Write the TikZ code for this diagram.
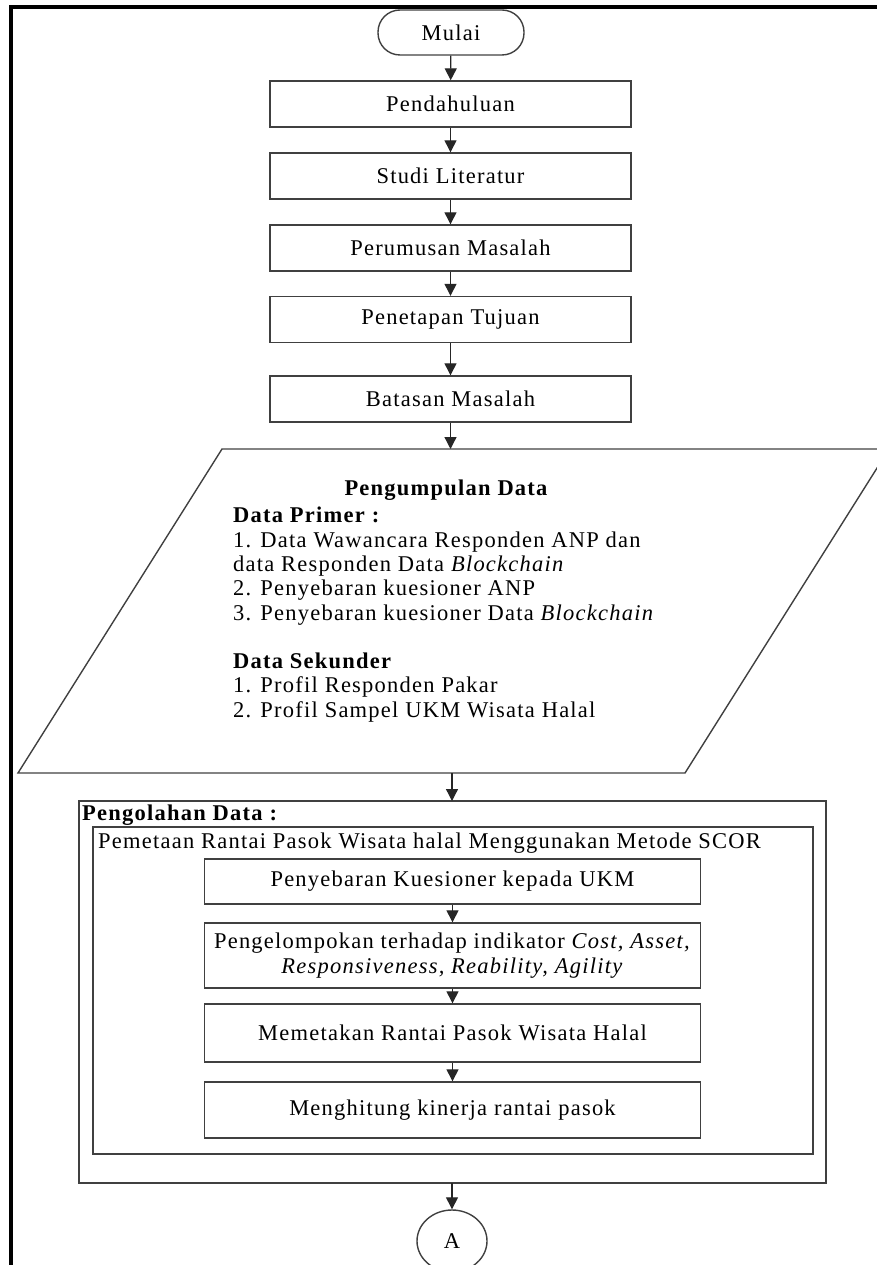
\documentclass[tikz,border=0pt]{standalone}
\usepackage{fontspec}
\setmainfont{Liberation Serif}[LetterSpace=5.5]
\usetikzlibrary{arrows.meta,shapes.geometric}
\begin{document}
\begin{tikzpicture}[x=1pt,y=-1pt,
  edge/.style={draw=black!75, line width=1.4pt},
  lbl/.style={font=\fontsize{22.5}{24.3}\selectfont},
  stepbox/.style={edge, lbl, rectangle, inner sep=0pt, align=center},
  topbox/.style={stepbox, minimum width=361pt, minimum height=46pt},
  subbox/.style={stepbox, minimum width=496pt},
  arr/.style={draw=black!85, line width=1.3pt, -{Triangle[width=12pt,length=12pt]}},
  txt/.style={lbl, inner sep=0pt},
]
\useasboundingbox (0,0) rectangle (877,1265);
\begin{scope}
\clip (0,0) rectangle (877,1265);

% page frame
\draw[line width=4pt, black, line join=miter] (877,7) -- (11.3,7) -- (11.3,1265);

% start terminal and preliminary steps
\node[edge, lbl, rounded corners=22pt, minimum width=146pt, minimum height=45pt,
  inner sep=0pt] (start) at (451,32.5) {Mulai};
\node[topbox] (s1) at (450.5,104) {Pendahuluan};
\node[topbox] (s2) at (450.5,176) {Studi Literatur};
\node[topbox] (s3) at (450.5,248) {Perumusan Masalah};
\node[topbox] (s4) at (450.5,319.5) {Penetapan Tujuan};
\node[topbox] (s5) at (450.5,399) {Batasan Masalah};

% data collection (input/output parallelogram)
\draw[edge] (222,449) -- (889,449) -- (685,773) -- (18,773) -- cycle;
\coordinate (ioTop) at (450.5,449);
\coordinate (ioBot) at (452,773);
\node[txt, font=\fontsize{22.5}{24.3}\selectfont\bfseries] (ioTitle) at (446,490) {Pengumpulan Data};
\node[txt, anchor=north west, align=left] (ioBody) at (233,507) {%
  \textbf{Data Primer :}\\
  1. Data Wawancara Responden ANP dan\\
  data Responden Data \textit{Blockchain}\\
  2. Penyebaran kuesioner ANP\\
  3. Penyebaran kuesioner Data \textit{Blockchain}\\[24.3pt]
  \textbf{Data Sekunder}\\
  1. Profil Responden Pakar\\
  2. Profil Sampel UKM Wisata Halal};

% data processing group
\draw[edge] (79,801) rectangle (826,1183);
\coordinate (procTop) at (452,801);
\coordinate (procBot) at (452,1183);
\node[txt, anchor=west, font=\fontsize{22.5}{24.3}\selectfont\bfseries] (procLabel) at (82,815) {Pengolahan Data :};
\draw[edge] (93,827) rectangle (813,1154);
\node[txt, anchor=west] (scorLabel) at (98,843) {Pemetaan Rantai Pasok Wisata halal Menggunakan Metode SCOR};

\node[subbox, minimum height=45pt] (p1) at (452.5,881.5) {Penyebaran Kuesioner kepada UKM};
\node[subbox, minimum height=65pt] (p2) at (452.5,955.5) {Pengelompokan terhadap indikator \textit{Cost, Asset,}\\ \textit{Responsiveness, Reability, Agility}};
\node[subbox, minimum height=58pt] (p3) at (452.5,1033) {Memetakan Rantai Pasok Wisata Halal};
\node[subbox, minimum height=56pt] (p4) at (452.5,1110) {Menghitung kinerja rantai pasok};

% off-page connector
\node[edge, lbl, ellipse, minimum width=70pt, minimum height=62pt, inner sep=0pt] (conA) at (452,1241) {A};

% flow
\draw[arr] (start) -- (s1);
\draw[arr] (s1) -- (s2);
\draw[arr] (s2) -- (s3);
\draw[arr] (s3) -- (s4);
\draw[arr] (s4) -- (s5);
\draw[arr] (s5) -- (ioTop);
\draw[arr] (ioBot) -- (procTop);
\draw[arr] (p1) -- (p2);
\draw[arr] (p2) -- (p3);
\draw[arr] (p3) -- (p4);
\draw[arr] (procBot) -- (conA);
\end{scope}
\end{tikzpicture}
\end{document}
